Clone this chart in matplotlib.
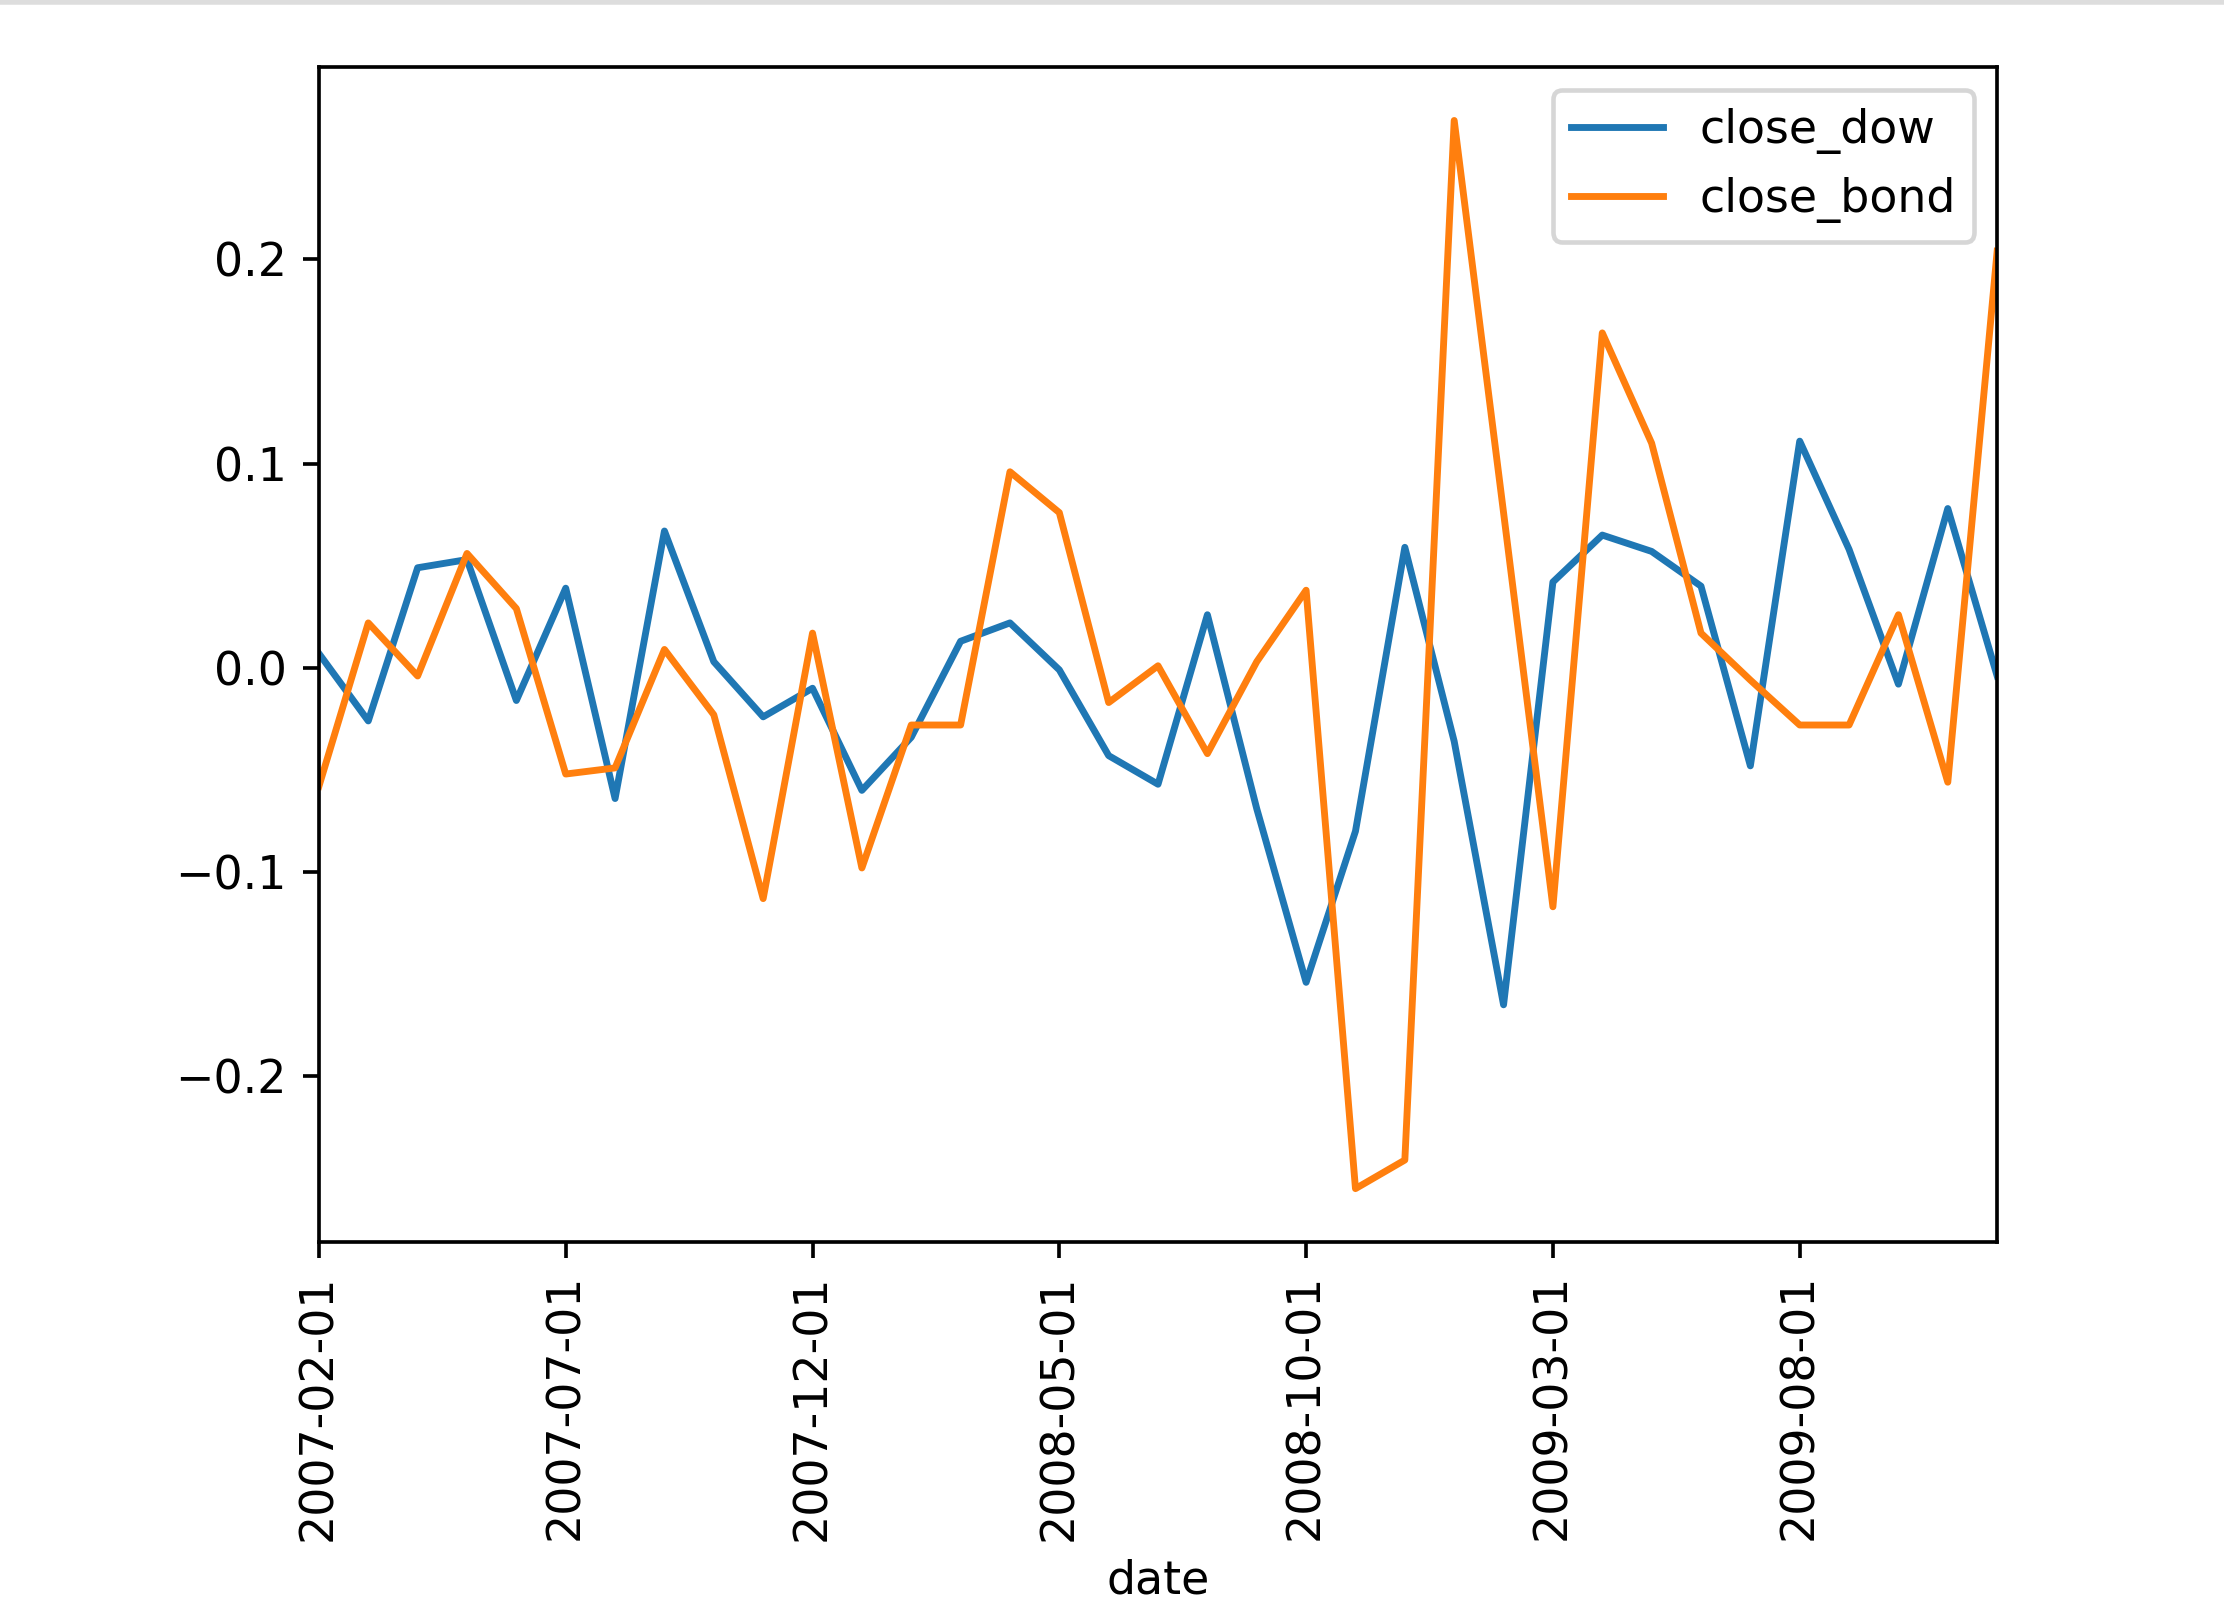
import matplotlib
matplotlib.use("Agg")
import matplotlib.pyplot as plt
from matplotlib.lines import Line2D

# monthly dates 2007-02 .. 2009-12
years = [2007] * 11 + [2008] * 12 + [2009] * 12
months = list(range(2, 13)) + list(range(1, 13)) + list(range(1, 13))
dates = ['{}-{:02d}-01'.format(y, m) for y, m in zip(years, months)]

close_dow = [0.007, -0.026, 0.049, 0.053, -0.016, 0.039, -0.064, 0.067,
             0.003, -0.024, -0.010, -0.060, -0.034, 0.013, 0.022, -0.001,
             -0.043, -0.057, 0.026, -0.069, -0.154, -0.080, 0.059, -0.036,
             -0.165, 0.042, 0.065, 0.057, 0.040, -0.048, 0.111, 0.058,
             -0.008, 0.078, -0.004]
close_bond = [-0.058, 0.022, -0.004, 0.056, 0.029, -0.052, -0.049, 0.009,
              -0.023, -0.113, 0.017, -0.098, -0.028, -0.028, 0.096, 0.076,
              -0.017, 0.001, -0.042, 0.003, 0.038, -0.255, -0.241, 0.268,
              0.076, -0.117, 0.164, 0.110, 0.017, -0.006, -0.028, -0.028,
              0.026, -0.056, 0.204]

dpi = 330
fig = plt.figure(figsize=(2224 / dpi, 1624 / dpi), dpi=dpi)
ax = fig.add_axes([0.1434, 0.2352, 0.898 - 0.1434, 0.9587 - 0.2352])

x = list(range(len(dates)))
ax.plot(x, close_dow, color='C0', label='close_dow')
ax.plot(x, close_bond, color='C1', label='close_bond')
ax.set_xlim(0, len(dates) - 1)

ticks = x[::5]
ax.set_xticks(ticks)
ax.set_xticklabels([dates[i] for i in ticks], rotation=90)
ax.set_yticks([-0.2, -0.1, 0.0, 0.1, 0.2])
ax.set_xlabel('date')
ax.legend(loc='upper right')

# thin grey rule along the top edge of the image
fig.add_artist(Line2D([0, 1], [0.9985, 0.9985], transform=fig.transFigure,
                      color='#dddddd', lw=1.2))

fig.savefig('out.png', dpi=dpi)
